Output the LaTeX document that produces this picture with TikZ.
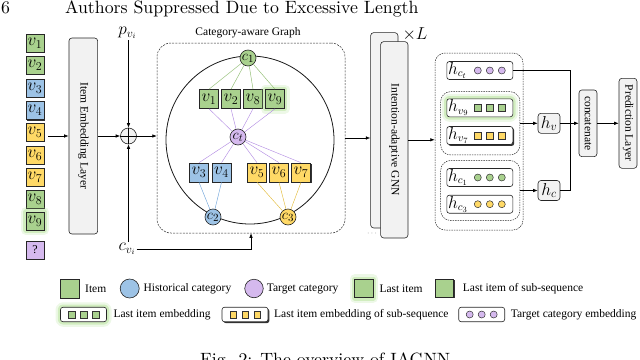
\documentclass[tikz,border=0pt]{standalone}
\usepackage{fontspec}
\newfontfamily\tms{Liberation Serif}
\usetikzlibrary{arrows.meta,shadows,calc}
\definecolor{cgreen}{HTML}{A9D18E}
\definecolor{cblue}{HTML}{9DC3E6}
\definecolor{cyellow}{HTML}{FFD966}
\definecolor{cpurple}{HTML}{D5B9EE}
\definecolor{cgray}{HTML}{F2F2F2}
\definecolor{lgreen}{HTML}{8DBB6E}
\definecolor{lpurple}{HTML}{B48FE3}
\definecolor{lblue}{HTML}{6FA3DA}
\definecolor{lyellow}{HTML}{E3BC3C}
\definecolor{glowc}{HTML}{A6DC85}
\newcommand\EmbRow[5]{%
  \node[embbox,#5] (#1) at (#2) {};
  \node[anchor=west, inner sep=0.5pt, font=\fontsize{16}{16}\selectfont] (#1l) at ([xshift=1pt]#1.west) {$#3$};
  \node[#4] (#1a) at ([xshift=-2pt]#1.center) {};
  \node[#4] (#1b) at ([xshift=10pt]#1.center) {};
  \node[#4] (#1c) at ([xshift=22pt]#1.center) {};
}
\newcommand\LegBox[4]{%
  \node[embbox, minimum width=46pt, minimum height=14.5pt, #4] (#1) at (#2) {};
  \node[#3] (#1a) at ([xshift=-12pt]#1.center) {};
  \node[#3] (#1b) at (#1.center) {};
  \node[#3] (#1c) at ([xshift=12pt]#1.center) {};
}
\begin{document}
\begin{tikzpicture}[x=1pt,y=-1pt,
  every node/.style={font=\tms\fontsize{11.5}{13}\selectfont},
  item/.style={draw=black!85, line width=0.6pt, minimum size=18pt, inner sep=0pt, font=\fontsize{16.5}{16.5}\selectfont},
  gitem/.style={item, minimum size=19pt},
  itemG/.style={fill=cgreen}, itemB/.style={fill=cblue}, itemY/.style={fill=cyellow}, itemP/.style={fill=cpurple},
  glow/.style={preaction={draw=glowc, line width=10pt, opacity=0.2, line join=round},
               preaction={draw=glowc, line width=5.5pt, opacity=0.4, line join=round}},
  sshadow/.style={drop shadow={shadow xshift=1.4pt, shadow yshift=-1.4pt, fill=black!80, opacity=1}},
  layer/.style={draw=black!85, fill=cgray, rounded corners=3pt, line width=0.6pt, inner sep=0pt},
  cat/.style={circle, draw=black!85, line width=0.6pt, minimum size=16pt, inner sep=0pt, font=\fontsize{15}{15}\selectfont},
  arr/.style={-{Latex[length=4.5pt,width=3.5pt]}, line width=0.6pt},
  ln/.style={line width=0.6pt},
  gdash/.style={draw=black!85, dash pattern=on 2pt off 1.2pt, line width=0.5pt, rounded corners=14pt, inner sep=0pt},
  odash/.style={draw=black!85, dash pattern=on 1.5pt off 1pt, line width=0.5pt, rounded corners=10pt, inner sep=0pt},
  embbox/.style={draw=black!85, fill=white, rounded corners=2.5pt, line width=0.6pt, minimum width=66pt, minimum height=18pt, inner sep=0pt},
  sqG/.style={draw=black!80, fill=cgreen, minimum size=6.5pt, inner sep=0pt, line width=0.5pt},
  sqY/.style={draw=black!80, fill=cyellow, minimum size=6.5pt, inner sep=0pt, line width=0.5pt},
  ciG/.style={circle, draw=black!80, fill=cgreen, minimum size=7pt, inner sep=0pt, line width=0.5pt},
  ciY/.style={circle, draw=black!80, fill=cyellow, minimum size=7pt, inner sep=0pt, line width=0.5pt},
  ciP/.style={circle, draw=black!80, fill=cpurple, minimum size=7pt, inner sep=0pt, line width=0.5pt},
  gl/.style={draw=lgreen, line width=0.45pt},
  pl/.style={draw=lpurple, line width=0.45pt},
  bl/.style={draw=lblue, line width=0.45pt},
  yl/.style={draw=lyellow, line width=0.45pt},
  mlabel/.style={font=\fontsize{17}{17}\selectfont, inner sep=1pt},
  pagetext/.style={font=\normalfont\fontsize{10}{12}\selectfont, inner sep=0pt, anchor=base west}
]
\useasboundingbox (0,0) rectangle (640,359);
% header and caption
\node[pagetext] (pgno) at (1,13.6) {\scalebox{1.78}{6}};
\node[pagetext] (hdr) at (65,13.6) {\scalebox{1.78}{Authors Suppressed Due to Excessive Length}};
\node[pagetext] (cap) at (200,365) {\scalebox{1.78}{Fig. 2: The overview of IAGNN}};

% left column
\node[item,itemG] (L1) at (35,43) {$v_1$};
\node[item,itemG] (L2) at (35,65.5) {$v_2$};
\node[item,itemB] (L3) at (35,88) {$v_3$};
\node[item,itemB,sshadow] (L4) at (35,110.5) {$v_4$};
\node[item,itemY] (L5) at (35,132.5) {$v_5$};
\node[item,itemY] (L6) at (35,155) {$v_6$};
\node[item,itemY,sshadow] (L7) at (35,177) {$v_7$};
\node[item,itemG] (L8) at (35,199) {$v_8$};
\node[item,itemG,glow] (L9) at (35,221) {$v_9$};
\node[item,itemP,font=\tms\fontsize{12}{12}\selectfont] (Lq) at (35,250) {?};

% item embedding layer
\node[layer, minimum width=28.7pt, minimum height=196pt] (emb) at (83.3,136) {\rotatebox{-90}{Item Embedding Layer}};
\coordinate (cin) at (48,136);
\draw[arr] (cin) -- (emb.west);

% oplus
\node[circle, draw=black!85, fill=cgray, line width=0.6pt, minimum size=16pt, inner sep=0pt] (op) at (128.5,136) {};
\draw[line width=0.5pt] (op.north) -- (op.south) (op.west) -- (op.east);
\draw[arr] (emb.east) -- (op.west);
\node[mlabel] (pv) at (127.5,33) {$p_{v_i}$};
\node[mlabel] (cv) at (127,249) {$c_{v_i}$};
\draw[arr] (pv.south -| op) -- (op.north);
\draw[arr] (cv.north -| op) -- (op.south);

% category-aware graph
\node[gdash, minimum width=188pt, minimum height=190pt] (graph) at (251,138) {};
\node (gtitle) at (248,33) {Category-aware Graph};
\draw[arr] (op.east) -- (op.east -| graph.west);
\draw[arr] (cv.east) -| (graph.south);
\node[circle, draw=black!90, line width=0.8pt, minimum size=168pt, inner sep=0pt] (ring) at (250,140) {};

\node[gitem,itemG] (G1) at (209,99) {$v_1$};
\node[gitem,itemG] (G2) at (231,99) {$v_2$};
\node[gitem,itemG] (G8) at (253,99) {$v_8$};
\node[gitem,itemG,glow] (G9) at (275,99) {$v_9$};
\node[gitem,itemB] (G3) at (199,172.5) {$v_3$};
\node[gitem,itemB,sshadow] (G4) at (221.5,172.5) {$v_4$};
\node[gitem,itemY] (G5) at (257,172.5) {$v_5$};
\node[gitem,itemY] (G6) at (279,172.5) {$v_6$};
\node[gitem,itemY,sshadow] (G7) at (301,172.5) {$v_7$};

\node[cat, fill=cgreen] (c1) at (248,58) {$c_1$};
\node[cat, fill=cpurple] (ct) at (238,137) {$c_t$};
\node[cat, fill=cblue] (c2) at (213,217) {$c_2$};
\node[cat, fill=cyellow] (c3) at (288,217) {$c_3$};

\foreach \g in {G1,G2,G8,G9} {\draw[gl] (c1) -- (\g.north); \draw[pl] (\g.south) -- (ct);}
\foreach \g in {G3,G4,G5,G6,G7} {\draw[pl] (ct) -- (\g.north);}
\foreach \g in {G3,G4} {\draw[bl] (\g.south) -- (c2);}
\foreach \g in {G5,G6,G7} {\draw[yl] (\g.south) -- (c3);}

% GNN
\node[layer, minimum width=27.3pt, minimum height=195.3pt] (gnnb) at (384.3,130.3) {};
\node[layer, minimum width=27.3pt, minimum height=196.3pt] (gnn) at (394.3,139.8) {\rotatebox{-90}{Intention-adaptive GNN}};
\node[font=\fontsize{16}{16}\selectfont] (xl) at (415,34) {$\times L$};
\node[text=black!55, font=\fontsize{8}{8}\selectfont] (dots) at (372,234) {$\cdots$};
\draw[arr] (graph.east) -- (graph.east -| gnnb.west);

% output groups
\node[odash, minimum width=88pt, minimum height=177pt] (outer) at (479,141.5) {};
\draw[arr] (gnn.east) -- (gnn.east -| outer.west);
\node[odash, minimum width=79.3pt, minimum height=63.3pt] (grp1) at (480.3,123.3) {};
\node[odash, minimum width=79.3pt, minimum height=60pt] (grp2) at (480.3,190.5) {};
\EmbRow{hct}{479.8,70.5}{h_{c_t}}{ciP}{}
\EmbRow{hvn}{479.8,107.8}{h_{v_9}}{sqG}{glow}
\EmbRow{hvs}{479.8,135.5}{h_{v_7}}{sqY}{sshadow}
\EmbRow{hca}{479.8,177.5}{h_{c_1}}{ciG}{}
\EmbRow{hcc}{479.8,204.2}{h_{c_3}}{ciY}{}

% right part
\node[layer, minimum width=22pt, minimum height=20pt, font=\fontsize{17}{17}\selectfont] (hv) at (549,123.3) {$h_v$};
\node[layer, minimum width=22pt, minimum height=20pt, font=\fontsize{17}{17}\selectfont] (hc) at (549,190.5) {$h_c$};
\node[layer, minimum width=18pt, minimum height=66.7pt] (cat) at (588,123.3) {\rotatebox{-90}{concatenate}};
\node[layer, minimum width=18pt, minimum height=90pt] (pred) at (628,123.3) {\rotatebox{-90}{Prediction Layer}};
\coordinate (jn) at (570,123.3);
\draw[arr] (grp1.east) -- (hv.west);
\draw[arr] (grp2.east) -- (hc.west);
\draw[ln] (hct.east) -| (jn |- hc.east) -- (hc.east);
\draw[arr] (hv.east) -- (cat.west);
\draw[arr] (cat.east) -- (pred.west);

% legend row 1
\node[item,itemG,minimum size=19pt] (k1) at (69.7,288.5) {};
\node[anchor=west, inner sep=0pt] (k1t) at (85,288.5) {Item};
\node[cat, fill=cblue, minimum size=19pt] (k2) at (129.7,288.5) {};
\node[anchor=west, inner sep=0pt] (k2t) at (143.3,288.5) {Historical category};
\node[cat, fill=cpurple, minimum size=18.5pt] (k3) at (254,288.5) {};
\node[anchor=west, inner sep=0pt] (k3t) at (266.7,288.5) {Target category};
\node[item,itemG,glow,minimum size=18.5pt] (k4) at (364,288.5) {};
\node[anchor=west, inner sep=0pt] (k4t) at (379.3,288.5) {Last item};
\node[item,itemG,sshadow,minimum size=18pt] (k5) at (444.5,288) {};
\node[anchor=west, inner sep=0pt] (k5t) at (462.7,288.5) {Last item of sub-sequence};

% legend row 2
\LegBox{k6}{83.5,314.5}{sqG}{glow}
\node[anchor=west, inner sep=0pt] (k6t) at (113.3,314.5) {Last item embedding};
\LegBox{k7}{245,314.5}{sqY}{sshadow}
\node[anchor=west, inner sep=0pt] (k7t) at (274,314.5) {Last item embedding of sub-sequence};
\LegBox{k8}{481.7,314.5}{ciP}{}
\node[anchor=west, inner sep=0pt] (k8t) at (510.7,314.5) {Target category embedding};
\end{tikzpicture}
\end{document}
